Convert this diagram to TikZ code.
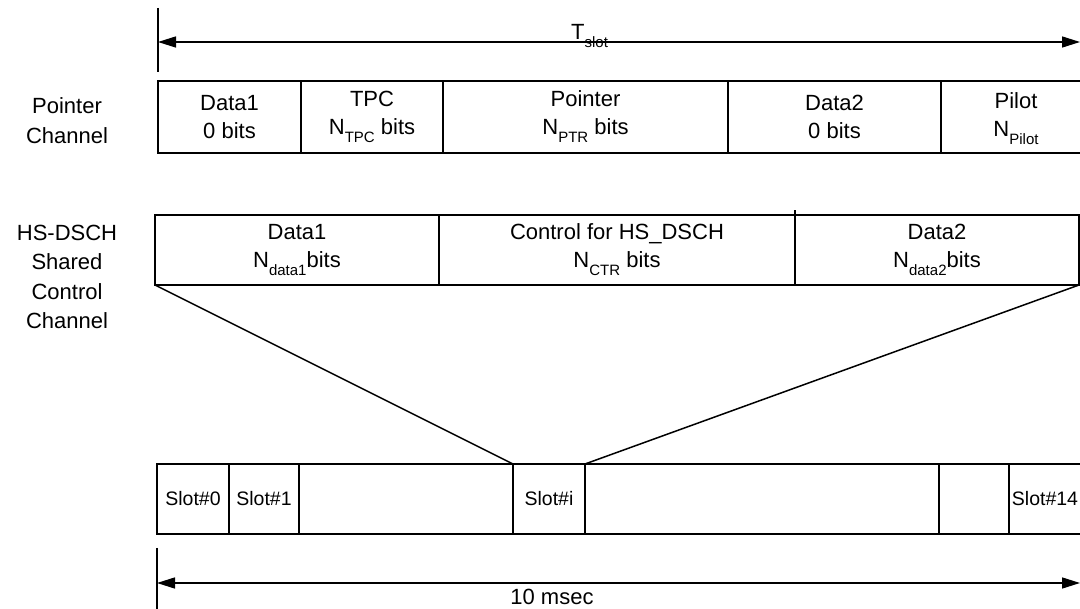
\documentclass[tikz,border=0pt]{standalone}
\usepackage{fontspec}
\setmainfont{Liberation Sans}
\usetikzlibrary{arrows.meta}
\newcommand{\subtxt}[1]{\raisebox{-8pt}{\fontsize{15}{15}\selectfont #1}}
\tikzset{
  field/.style={draw, line width=1.5pt, anchor=north west, inner sep=0pt, outer sep=0pt,
    align=center, font=\fontsize{22}{28}\selectfont},
  slotbox/.style={field, minimum height=70, font=\fontsize{19.5}{22}\selectfont},
  rowlabel/.style={align=center, font=\fontsize{22}{30}\selectfont},
  dimline/.style={line width=1.5pt},
  dimarrow/.style={line width=1.5pt, {Triangle[length=18pt,width=11pt]}-{Triangle[length=18pt,width=11pt]}}
}
\begin{document}
\begin{tikzpicture}[x=1pt, y=-1pt]
  \useasboundingbox (0, 0) rectangle (1080, 609);
  \clip (0, 0) rectangle (1080, 609);
  \coordinate (tslotbarT) at (158, 8);
  \coordinate (tslotbarB) at (158, 72);
  \coordinate (tslotL) at (158, 42);
  \coordinate (tslotR) at (1080, 42);
  \draw[dimline] (tslotbarT) -- (tslotbarB);
  \draw[dimarrow] (tslotL) -- (tslotR);
  \node[anchor=base west, font=\fontsize{22}{22}\selectfont, inner sep=0pt] (tslotlbl) at (571, 40) {T\subtxt{slot}};
  \node[rowlabel] (pclabel) at (67, 121) {Pointer\\Channel};
  \node[field, minimum width=143, minimum height=72] (pcd1) at (158, 81) {Data1\\0 bits};
  \node[field, minimum width=142, minimum height=72] (pctpc) at (pcd1.north east) {TPC\\N\subtxt{TPC} bits};
  \node[field, minimum width=285, minimum height=72] (pcptr) at (pctpc.north east) {Pointer\\N\subtxt{PTR} bits};
  \node[field, minimum width=213, minimum height=72] (pcd2) at (pcptr.north east) {Data2\\0 bits};
  \node[field, minimum width=150, minimum height=72] (pcpilot) at (pcd2.north east) {\rule{0pt}{20pt}Pilot\\N\subtxt{Pilot}};
  \node[rowlabel, font=\fontsize{22}{29.5}\selectfont] (hslabel) at (67, 277) {HS-DSCH\\Shared\\Control\\Channel};
  \node[field, minimum width=284, minimum height=70] (hsd1) at (155, 215) {Data1\\N\subtxt{data1}bits};
  \node[field, minimum width=356, minimum height=70] (hsctr) at (hsd1.north east) {Control for HS\_DSCH\\N\subtxt{CTR} bits};
  \node[field, minimum width=284, minimum height=70] (hsd2) at (hsctr.north east) {Data2\\N\subtxt{data2}bits};
  \draw[dimline] (hsctr.north east) -- ++(0, -5);
  \node[slotbox, minimum width=72] (slot0) at (157, 464) {Slot\#0};
  \node[slotbox, minimum width=70] (slot1) at (slot0.north east) {Slot\#1};
  \node[slotbox, minimum width=214] (slotgapa) at (slot1.north east) {};
  \node[slotbox, minimum width=72] (sloti) at (slotgapa.north east) {Slot\#i};
  \node[slotbox, minimum width=354] (slotgapb) at (sloti.north east) {};
  \node[slotbox, minimum width=70] (slotgapc) at (slotgapb.north east) {};
  \node[slotbox, minimum width=72] (slot14) at (slotgapc.north east) {Slot\#14};
  \draw[dimline] (hsd1.south west) -- (sloti.north west);
  \draw[dimline] (hsd2.south east) -- (sloti.north east);
  \coordinate (framebarT) at (157, 548);
  \coordinate (framebarB) at (157, 612);
  \coordinate (frameL) at (157, 583);
  \coordinate (frameR) at (1080, 583);
  \draw[dimline] (framebarT) -- (framebarB);
  \draw[dimarrow] (frameL) -- (frameR);
  \node[anchor=base, font=\fontsize{22}{22}\selectfont, inner sep=0pt] (framelbl) at (552, 605) {10 msec};
\end{tikzpicture}
\end{document}
